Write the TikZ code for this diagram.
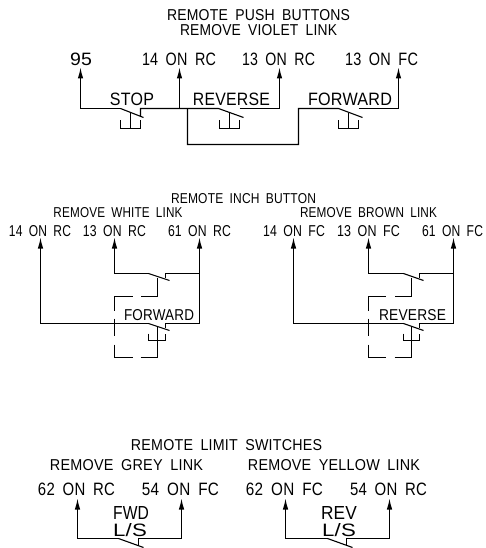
\documentclass[tikz,border=0pt]{standalone}
\usepackage{fontspec}
\setmainfont{Liberation Sans}[WordSpace=1.8,LetterSpace=1.5]
\usetikzlibrary{arrows.meta}
\tikzset{
  wire/.style={line width=1.1pt,line join=miter},
  term/.style={wire,-{Latex[length=11pt,width=5.5pt]}},
  dsh/.style={line width=1.1pt},
  lab/.style={inner sep=0pt,outer sep=0pt,anchor=center}
}
% name, x, y, width, height, text
\newcommand{\lab}[6]{\node[lab] (#1) at (#2,#3) {\resizebox{#4pt}{#5pt}{#6}};}
\begin{document}
\begin{tikzpicture}[x=1pt,y=-1pt]
\useasboundingbox (0,0) rectangle (486,548);
\fill[white] (0,0) rectangle (486,548);
% ---------- top
\lab{t1}{258.5}{15}{183}{11}{REMOTE PUSH BUTTONS}
\lab{t2}{258.5}{30}{157}{11}{REMOVE VIOLET LINK}
\lab{a95}{81}{59}{22}{12.5}{95}
\lab{a14}{179}{59}{74}{12.5}{14 ON RC}
\lab{a13}{278.5}{59}{73}{12.5}{13 ON RC}
\lab{af}{381.5}{59}{73}{12.5}{13 ON FC}
\lab{stop}{132}{99}{44}{12.5}{STOP}
\lab{rev}{231.5}{99}{77}{12.5}{REVERSE}
\lab{fwd}{350}{99}{84}{12.5}{FORWARD}
\lab{m0}{243.5}{199}{145}{10}{REMOTE INCH BUTTON}
\lab{m1}{118}{213}{129}{10}{REMOVE WHITE LINK}
\lab{m2}{368.5}{213}{137}{10}{REMOVE BROWN LINK}
\lab{l1}{40}{231}{62}{11}{14 ON RC}
\lab{l2}{114.5}{231}{63}{11}{13 ON RC}
\lab{l3}{199.5}{231}{63}{11}{61 ON RC}
\lab{r1}{294}{231}{62}{11}{14 ON FC}
\lab{r2}{368.5}{231}{63}{11}{13 ON FC}
\lab{r3}{452.5}{231}{61}{11}{61 ON FC}
\lab{fw2}{159}{315}{70}{11}{FORWARD}
\lab{rv2}{412.5}{315}{67}{11}{REVERSE}
\lab{b0}{226.5}{445}{191}{11}{REMOTE LIMIT SWITCHES}
\lab{b1}{126.5}{465}{153}{11}{REMOVE GREY LINK}
\lab{b2}{334}{465}{172}{11}{REMOVE YELLOW LINK}
\lab{c1}{76.5}{489}{77}{12.5}{62 ON RC}
\lab{c2}{180.5}{489}{77}{12.5}{54 ON FC}
\lab{c3}{284.5}{489}{77}{12.5}{62 ON FC}
\lab{c4}{388.5}{489}{77}{12.5}{54 ON RC}
\lab{s1}{131}{513}{36}{13}{FWD}
\lab{s2}{130}{530}{34}{13}{L/S}
\lab{s3}{339}{513}{36}{13}{REV}
\lab{s4}{339}{530}{34}{13}{L/S}
\begin{scope}[xshift=0.5pt,yshift=-0.5pt]
% ---------- top
\coordinate (p95) at (80,67);
\coordinate (p14) at (179,67);
\coordinate (p13) at (279,67);
\coordinate (pf) at (398,67);
\draw[term] (120,108) -- (80,108) -- (p95);
\draw[wire] (120,108) -- (143,117);
\draw[wire] (140,116) -- (140,108) -- (218,108) -- (243,117);
\draw[term] (179,108) -- (p14);
\draw[term] (239,108) -- (279,108) -- (p13);
\coordinate (j) at (187,108);
\draw[wire] (j) -- (187,144) -- (298,144) -- (298,108) -- (338,108) -- (362,117);
\draw[term] (358,108) -- (398,108) -- (pf);
\draw[wire] (120,120) -- (120,128) -- (140,128) -- (140,120);
\draw[wire] (130,113) -- (130,128);
\draw[wire] (219,120) -- (219,128) -- (239,128) -- (239,120);
\draw[wire] (229,113) -- (229,128);
\draw[wire] (338,120) -- (338,128) -- (358,128) -- (358,120);
\draw[wire] (348,113) -- (348,128);
% left unit
\draw[term] (148,323) -- (40,323) -- (40,237);
\draw[term] (148,273) -- (114,273) -- (114,237);
\draw[term] (165,277) -- (165,273) -- (199,273) -- (199,237);
\draw[wire] (199,273) -- (199,323) -- (165,323) -- (165,327);
\draw[wire] (148,273) -- (169,280);
\draw[wire] (148,323) -- (169,330);
\draw[wire] (148,333) -- (148,340) -- (165,340) -- (165,333);
\draw[wire] (157,326) -- (157,340);
\draw[dsh] (157,277) -- (157,296) -- (140,296);
\draw[dsh] (132,296) -- (114,296) -- (114,310);
\draw[dsh] (114,318) -- (114,335);
\draw[dsh] (114,344) -- (114,357) -- (132,357);
\draw[dsh] (140,357) -- (157,357) -- (157,340);
% right unit
\draw[term] (403,323) -- (293,323) -- (293,237);
\draw[term] (403,273) -- (368,273) -- (368,237);
\draw[term] (419,277) -- (419,273) -- (453,273) -- (453,237);
\draw[wire] (453,273) -- (453,323) -- (419,323) -- (419,327);
\draw[wire] (403,273) -- (423,280);
\draw[wire] (403,323) -- (423,330);
\draw[wire] (403,333) -- (403,340) -- (419,340) -- (419,333);
\draw[wire] (411,326) -- (411,340);
\draw[dsh] (411,277) -- (411,296) -- (394,296);
\draw[dsh] (385,296) -- (368,296) -- (368,310);
\draw[dsh] (368,318) -- (368,335);
\draw[dsh] (368,344) -- (368,357) -- (385,357);
\draw[dsh] (394,357) -- (411,357) -- (411,340);
% ---------- bottom
\draw[term] (118,538) -- (77,538) -- (77,498);
\draw[term] (138,545) -- (138,538) -- (181,538) -- (181,498);
\draw[wire] (118,538) -- (143,547);
\draw[term] (327,538) -- (285,538) -- (285,498);
\draw[term] (346,545) -- (346,538) -- (389,538) -- (389,498);
\draw[wire] (327,538) -- (352,547);
\end{scope}
\end{tikzpicture}
\end{document}
